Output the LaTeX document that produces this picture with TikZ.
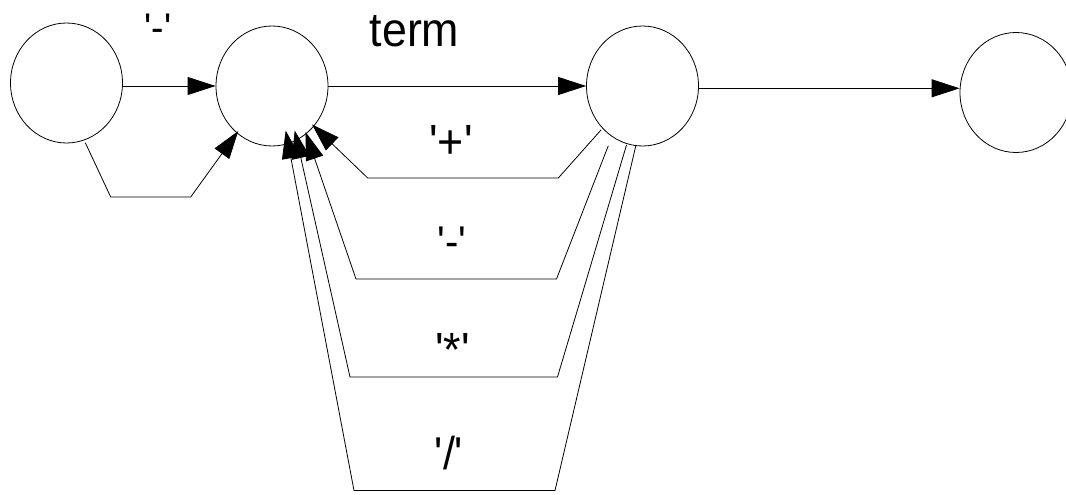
\documentclass[tikz,border=0pt]{standalone}
\usepackage{fontspec}
\usepackage{graphicx}
\newfontfamily\labfont{Liberation Sans}
\usetikzlibrary{arrows.meta,shapes.geometric}
\newcommand\sq{\textquotesingle}
\newcommand\lab[2]{{\labfont\fontsize{#1}{#1}\selectfont\scalebox{0.933}[1]{#2}}}
\begin{document}
\begin{tikzpicture}[x=1pt,y=-1pt,
  state/.style={draw, ellipse, minimum width=112pt, minimum height=120pt, inner sep=0pt, line width=0.8pt},
  arr/.style={draw, line width=0.8pt, -{Triangle[length=28pt,width=18pt]}},
  lbl/.style={anchor=base, inner sep=0pt}]
\useasboundingbox (0,0) rectangle (1066,495);
\clip (0,0) rectangle (1066,495);
% states
\node[state] (n1) at (66.5,83) {};
\node[state] (n2) at (272,86) {};
\node[state] (n3) at (642.5,86) {};
\node[state] (n4) at (1016,92.5) {};
% labels
\node[lbl] (lminus1) at (158,42) {\lab{40}{\sq-\sq}};
\node[lbl] (lterm) at (414.5,47) {\lab{48}{term}};
\node[lbl] (lplus) at (451,158) {\lab{48}{\sq+\sq}};
\node[lbl] (lminus2) at (452,256) {\lab{43}{\sq-\sq}};
\node[lbl] (lstar) at (452.5,366) {\lab{48}{\sq*\sq}};
\node[lbl] (lslash) at (449,469.5) {\lab{46}{\sq/\sq}};
% coordinates
\coordinate (s0) at (85.3,142.7);
\coordinate (t0) at (238.3,131);
\coordinate (p1) at (601,130);
\coordinate (p2) at (608.3,145.7);
\coordinate (p3) at (626.5,145);
\coordinate (p4) at (636,145);
\coordinate (t1) at (312,124.5);
\coordinate (t2) at (305.5,132);
\coordinate (t3) at (294.7,130.5);
\coordinate (t4) at (285.7,130.5);
% forward edges
\draw[arr] (n1.east |- n2.west) -- (n2.west);
\draw[arr] (s0) -- (110.7,197) -- (190.7,197) -- (t0);
\draw[arr] (n2.east) -- (n3.west);
\draw[arr] ([yshift=-2.3pt]n3.east) -- ([yshift=-2.3pt]n3.east -| n4.west);
% return edges
\draw[arr] (p1) -- (558.3,178) -- (367.7,178) -- (t1);
\draw[arr] (p2) -- (556.5,279) -- (356,279) -- (t2);
\draw[arr] (p3) -- (557.5,377) -- (350,377) -- (t3);
\draw[arr] (p4) -- (555,490.5) -- (354,490.5) -- (t4);
\end{tikzpicture}
\end{document}
